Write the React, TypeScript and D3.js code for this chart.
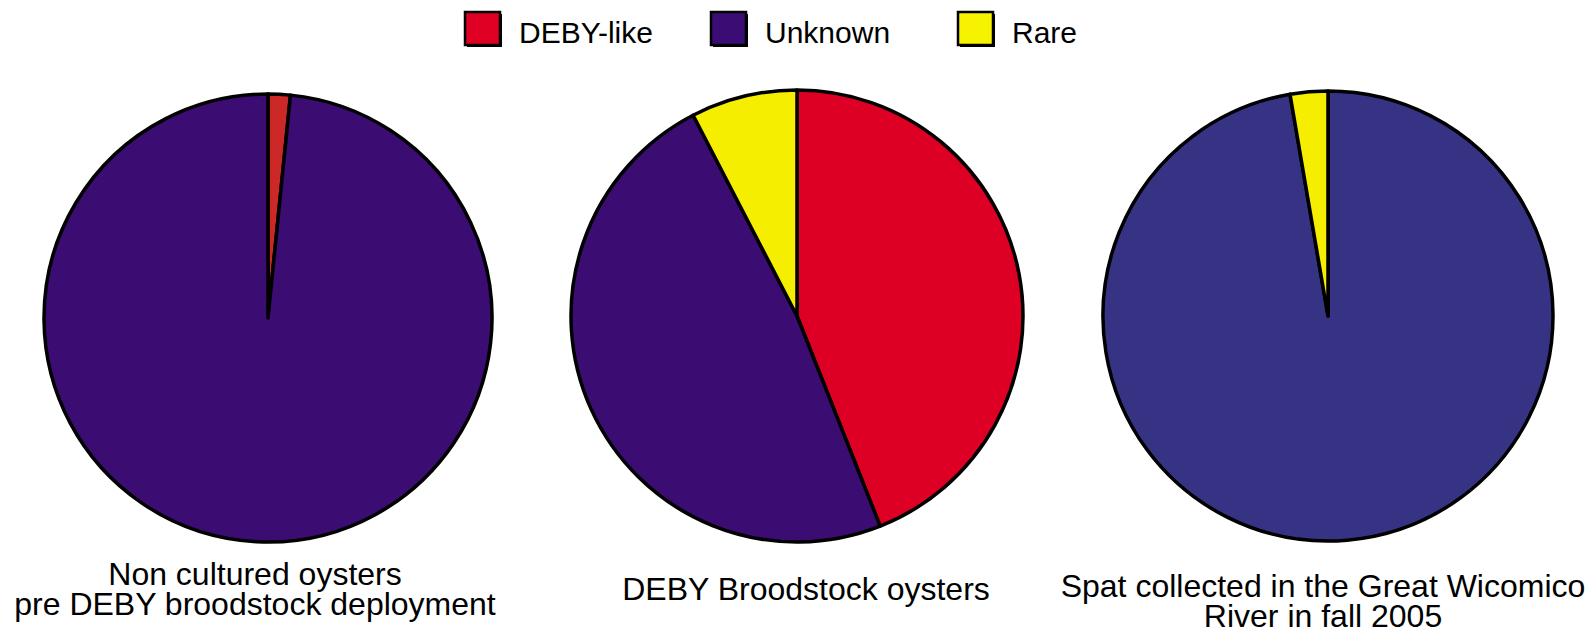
import * as d3 from "d3";

const W = 1595;
const H = 639;
const FONT = "'Liberation Sans', Arial, Helvetica, sans-serif";

// categories, in clockwise order from 12 o'clock
const categories = ["DEBY-like", "Unknown", "Rare"];

// percentages
const nonCultured = [1.6, 98.4, 0];
const broodstock = [44.0, 48.4, 7.6];
const spat = [0, 97.3, 2.7];

const titlesNonCultured = ["Non cultured oysters", "pre DEBY broodstock deployment"];
const titlesBroodstock = ["DEBY Broodstock oysters"];
const titlesSpat = ["Spat collected in the Great Wicomico", "River in fall 2005"];

const legendColors = ["#e00024", "#3b0c73", "#f7f200"];

const pies = [
  {
    values: nonCultured,
    title: titlesNonCultured,
    cx: 268, cy: 318, r: 224,
    colors: ["#cc2828", "#3b0c72", "#f5ee00"],
    labelX: 255, labelY: 585,
  },
  {
    values: broodstock,
    title: titlesBroodstock,
    cx: 797, cy: 316, r: 226,
    colors: ["#de0024", "#3b0c72", "#f5ee00"],
    labelX: 806, labelY: 600,
  },
  {
    values: spat,
    title: titlesSpat,
    cx: 1328, cy: 316, r: 225,
    colors: ["#de0024", "#373384", "#f5ee00"],
    labelX: 1323, labelY: 597,
  },
];

const legendX = [465, 711, 958];

type Slice = { cat: string; value: number; i: number };

const Pie = ({ p }: { p: (typeof pies)[number] }) => {
  const data: Slice[] = p.values.map((v, i) => ({ cat: categories[i], value: v, i }));
  const arcs = d3
    .pie<Slice>()
    .sort(null)
    .value((d) => d.value)(data)
    .filter((a) => a.data.value > 0);
  const arc = d3.arc<d3.PieArcDatum<Slice>>().innerRadius(0).outerRadius(p.r);

  return (
    <g>
      <g transform={`translate(${p.cx},${p.cy})`}>
        {arcs.map((a) => (
          <path
            key={a.data.cat}
            d={arc(a) || ""}
            fill={p.colors[a.data.i]}
            stroke="#000"
            strokeWidth={3.5}
            strokeLinejoin="round"
          />
        ))}
      </g>
      {p.title.map((t, k) => (
        <text
          key={t}
          x={p.labelX}
          y={p.labelY + k * 30}
          textAnchor="middle"
          fontFamily={FONT}
          fontSize={32}
          fill="#000"
        >
          {t}
        </text>
      ))}
    </g>
  );
};

export default function App() {
  return (
    <svg
      width={W}
      height={H}
      style={{ position: "absolute", left: 0, top: 0, background: "#fff" }}
    >
      {/* legend */}
      {categories.map((c, i) => (
        <g key={c}>
          <rect x={legendX[i] + 2} y={14} width={35} height={33} fill="#000" />
          <rect
            x={legendX[i]}
            y={12}
            width={35}
            height={33}
            fill={legendColors[i]}
            stroke="#000"
            strokeWidth={2.5}
          />
          <text
            x={legendX[i] + 54}
            y={43}
            fontFamily={FONT}
            fontSize={30}
            fill="#000"
          >
            {c}
          </text>
        </g>
      ))}

      {pies.map((p, i) => (
        <Pie key={i} p={p} />
      ))}
    </svg>
  );
}
